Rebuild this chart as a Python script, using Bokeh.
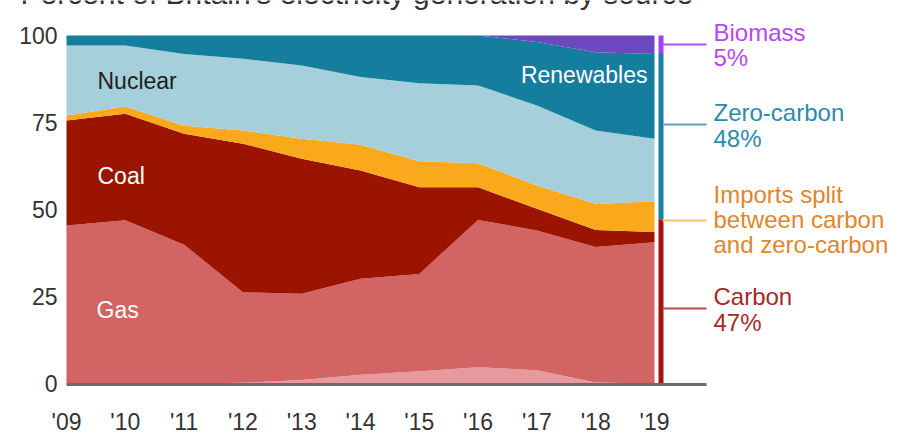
from bokeh.plotting import figure
from bokeh.models import ColumnDataSource, FixedTicker, Range1d
from bokeh.embed import file_html
from bokeh.resources import INLINE
from bokeh.core.properties import value

# ---------------- data (percent of UK electricity generation) ----------------
years = [2009, 2010, 2011, 2012, 2013, 2014, 2015, 2016, 2017, 2018, 2019]
year_labels = ["'09", "'10", "'11", "'12", "'13", "'14", "'15", "'16", "'17", "'18", "'19"]
y_ticks = [0, 25, 50, 75, 100]

other      = [0.0, 0.0, 0.0, 0.2, 1.0, 2.5, 3.5, 4.7, 3.8, 0.3, 0.0]
gas        = [45.4, 46.9, 39.9, 26.0, 24.8, 27.6, 28.0, 42.3, 40.2, 38.9, 40.6]
coal       = [30.2, 30.6, 31.9, 42.7, 38.8, 31.1, 24.9, 9.4, 6.2, 4.9, 2.9]
imports    = [1.4, 2.1, 2.3, 3.8, 5.7, 7.4, 7.5, 6.9, 6.7, 7.5, 8.9]
nuclear    = [20.1, 17.5, 20.6, 20.6, 21.1, 19.5, 22.4, 22.3, 23.0, 21.1, 17.9]
renewables = [2.9, 2.9, 5.3, 6.7, 8.6, 11.9, 13.7, 14.4, 18.2, 22.5, 24.4]
biomass    = [0.0, 0.0, 0.0, 0.0, 0.0, 0.0, 0.0, 0.0, 1.9, 4.8, 5.3]

summary_names = ["Carbon", "Zero-carbon", "Biomass"]
summary_shares = [47, 48, 5]
imports_note = ["Imports split", "between carbon", "and zero-carbon"]
title = "Percent of Britain's electricity generation by source"

# ---------------- styling ----------------
FONT = value("Liberation Sans")
area_colors = ["#e69a9d", "#d26464", "#9b1400", "#f9a91b", "#a6cfdc", "#157e9e", "#6d48be"]
bar_colors = ["#a3160f", "#1a80a3", "#a63ff2"]

W, H = 912, 434
# pixel -> data helpers (canvas pixels)
PX0, PXY = 66.0, 58.8          # x pixel of 2009, pixels per year
PY0, PYU = 383.0, 3.48         # y pixel of 0, pixels per percent
def xd(px):
    return years[0] + (px - PX0) / PXY
def yd(py):
    return (PY0 - py) / PYU

LEFT = 18
p = figure(frame_width=W - LEFT, frame_height=H,
           min_border_left=LEFT, min_border_right=0, min_border_top=0, min_border_bottom=0,
           x_range=Range1d(xd(LEFT), xd(W)),
           y_range=Range1d(yd(H), yd(0)),
           x_axis_location=None, toolbar_location=None, output_backend="svg",
           background_fill_color="white", border_fill_color="white")
p.outline_line_color = None
p.grid.visible = False

yax = p.yaxis[0]
yax.ticker = FixedTicker(ticks=y_ticks)
yax.axis_line_color = None
yax.major_tick_line_color = None
yax.minor_tick_line_color = None
yax.major_tick_out = 0
yax.major_tick_in = 0
yax.major_label_standoff = LEFT - 57
yax.major_label_text_font = "Liberation Sans"
yax.major_label_text_font_size = "23px"
yax.major_label_text_color = "#333333"

src = ColumnDataSource(dict(year=years, other=other, gas=gas, coal=coal, imports=imports,
                            nuclear=nuclear, renewables=renewables, biomass=biomass))
p.varea_stack(["other", "gas", "coal", "imports", "nuclear", "renewables", "biomass"],
              x="year", color=area_colors, source=src)

# summary bar at right
bsrc = ColumnDataSource(dict(x=[xd(660.5)], carbon=[summary_shares[0]],
                             zero=[summary_shares[1]], bio=[summary_shares[2]]))
p.vbar_stack(["carbon", "zero", "bio"], x="x", width=5.0 / PXY, color=bar_colors,
             line_color=None, source=bsrc)

# baseline
p.segment(x0=[years[0]], y0=[yd(384)], x1=[xd(706)], y1=[yd(384)],
          line_color="#6b6b6b", line_width=3)

# x tick labels
p.text(x=years, y=[yd(421)] * len(years), text=year_labels, text_align="center",
       text_baseline="middle", text_font=FONT, text_font_size="23px", text_color="#333333")

# title (cut off at the top edge, as in the source picture)
p.text(x=[xd(20)], y=[yd(-7)], text=[title], text_baseline="middle", text_font=FONT,
       text_font_size="30px", text_color="#333333")

# in-chart labels
p.text(x=[xd(97), xd(97), xd(96)], y=[yd(80), yd(175), yd(309)],
       text=["Nuclear", "Coal", "Gas"], text_baseline="middle", text_font=FONT,
       text_font_size="23px", text_color=["#1e1e1e", "#ffffff", "#ffffff"])
p.text(x=[xd(647)], y=[yd(74)], text=["Renewables"], text_align="right",
       text_baseline="middle", text_font=FONT, text_font_size="23px", text_color="#ffffff")

# connectors
conn_y = [yd(308), yd(124), yd(44), yd(220)]
conn_colors = ["#b84a4a", "#5b9ec0", "#b44cf0", "#fcc070"]
p.segment(x0=[xd(662)] * 4, y0=conn_y, x1=[xd(706)] * 4, y1=conn_y,
          line_color=conn_colors, line_width=2)

# right labels
lab_x = xd(713)
lab_colors = ["#a52a2a", "#2d8aab", "#b548f2"]
lab_y = [(296, 322), (112, 138), (32, 57)]
for name, share, col, (ya, yb) in zip(summary_names, summary_shares, lab_colors, lab_y):
    p.text(x=[lab_x, lab_x], y=[yd(ya), yd(yb)], text=[name, f"{share}%"],
           text_baseline="middle", text_font=FONT, text_font_size="24px", text_color=col)
p.text(x=[lab_x] * 3, y=[yd(194), yd(219), yd(244)], text=imports_note,
       text_baseline="middle", text_font=FONT, text_font_size="24px", text_color="#e0862c")

open("out.html", "w").write(file_html(p, INLINE))
